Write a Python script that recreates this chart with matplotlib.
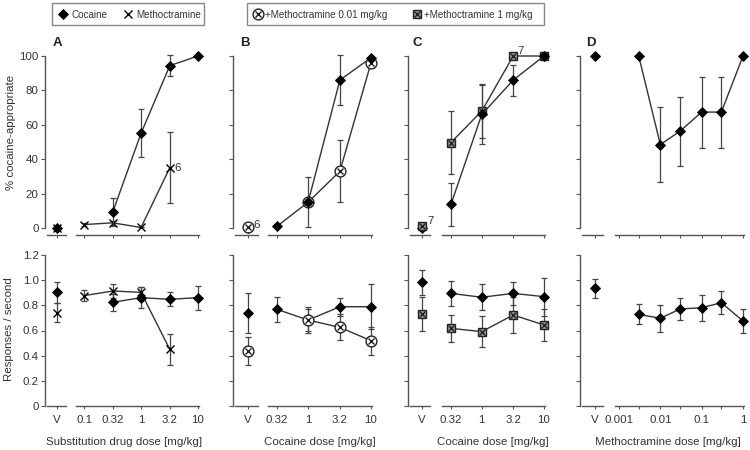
import matplotlib
matplotlib.use('Agg')
import matplotlib.pyplot as plt
import numpy as np
from matplotlib.patches import Rectangle

plt.rcParams['font.family'] = ['Liberation Sans', 'DejaVu Sans']

# ---------------- data ----------------
# Panel A (substitution)
a_coc_dose = [0.32, 1, 3.2, 10]
a_coc_pct = [9.3, 55, 94.4, 100]
a_coc_pct_err = [8.4, 14, 6, 0]
a_coc_v_pct = 0
a_meth_dose = [0.1, 0.32, 1, 3.2]
a_meth_pct = [2, 3, 0.3, 35]
a_meth_pct_err = [1, 1, 0, 20.7]
a_meth_v_pct = 0
a_coc_rate = [0.824, 0.861, 0.848, 0.861]
a_coc_rate_err = [0.069, 0.083, 0.057, 0.095]
a_coc_v_rate, a_coc_v_rate_err = 0.903, 0.086
a_meth_rate = [0.877, 0.914, 0.903, 0.450]
a_meth_rate_err = [0.042, 0.053, 0.042, 0.124]
a_meth_v_rate, a_meth_v_rate_err = 0.742, 0.073

# Panel B (cocaine +/- methoctramine 0.01 mg/kg)
b_coc_dose = [0.32, 1, 3.2, 10]
b_coc_pct = [1, 15, 86, 99]
b_coc_pct_err = [0, 0, 14.3, 0]
b_coc_v_pct = 0
b_m_dose = [1, 3.2, 10]
b_m_pct = [15, 33, 96]
b_m_pct_err = [14.5, 18, 2]
b_m_v_pct = 0.5
b_coc_rate = [0.768, 0.683, 0.789, 0.789]
b_coc_rate_err = [0.097, 0.103, 0.073, 0.179]
b_coc_v_rate, b_coc_v_rate_err = 0.736, 0.159
b_m_rate = [0.683, 0.625, 0.519]
b_m_rate_err = [0.088, 0.103, 0.110]
b_m_v_rate, b_m_v_rate_err = 0.437, 0.112

# Panel C (cocaine +/- methoctramine 1 mg/kg)
c_coc_dose = [0.32, 1, 3.2, 10]
c_coc_pct = [13.8, 66, 86, 100]
c_coc_pct_err = [12.4, 17, 9, 0]
c_coc_v_pct = 0
c_m_dose = [0.32, 1, 3.2, 10]
c_m_pct = [49.7, 68, 100, 100]
c_m_pct_err = [18.5, 15.5, 0, 0]
c_m_v_pct = 1
c_coc_rate = [0.895, 0.864, 0.895, 0.869]
c_coc_rate_err = [0.10, 0.102, 0.092, 0.15]
c_coc_v_rate, c_coc_v_rate_err = 0.983, 0.10
c_m_rate = [0.617, 0.591, 0.723, 0.644]
c_m_rate_err = [0.107, 0.125, 0.14, 0.13]
c_m_v_rate, c_m_v_rate_err = 0.731, 0.133

# Panel D (cocaine + methoctramine doses)
d_dose = [0.003, 0.01, 0.03, 0.1, 0.3, 1]
d_pct = [100, 48.5, 56.3, 67.4, 67.4, 100]
d_pct_err = [0, 21.8, 20, 20.6, 20.6, 0]
d_v_pct = 100
d_rate = [0.728, 0.697, 0.771, 0.781, 0.821, 0.675]
d_rate_err = [0.08, 0.108, 0.09, 0.103, 0.089, 0.098]
d_v_rate, d_v_rate_err = 0.935, 0.076

ticks_ac = [0.1, 0.32, 1, 3.2, 10]
ticklabels_a = ['0.1', '0.32', '1', '3.2', '10']
ticks_bc = [0.32, 1, 3.2, 10]
ticklabels_bc = ['0.32', '1', '3.2', '10']
ticks_d = [0.001, 0.003, 0.01, 0.03, 0.1, 0.3, 1]
ticklabels_d = ['0.001', '', '0.01', '', '0.1', '', '1']

legend1_labels = ['Cocaine', 'Methoctramine']
legend2_labels = ['+Methoctramine 0.01 mg/kg', '+Methoctramine 1 mg/kg']

# ---------------- style ----------------
W, H = 750, 450
fig = plt.figure(figsize=(7.5, 4.5), dpi=100)
TXT = '#333333'
SP = '#555555'
LC = '#333333'
EC = '#444444'
FS = 8.25

def add_ax(x0, x1, ytop, ybot):
    return fig.add_axes([x0 / W, 1 - ybot / H, (x1 - x0) / W, (ybot - ytop) / H])

STY = {
    'coc': [dict(marker='D', ms=5.2, mfc='black', mec='black', mew=0.6)],
    'meth': [dict(marker='x', ms=5.5, mfc='none', mec='black', mew=1.0)],
    'm001': [dict(marker='o', ms=7.8, mfc='white', mec='#222222', mew=1.0),
             dict(marker='x', ms=5.0, mfc='none', mec='#222222', mew=1.0)],
    'm1': [dict(marker='s', ms=6.2, mfc='#9a9a9a', mec='#222222', mew=1.0),
           dict(marker='x', ms=4.6, mfc='none', mec='#222222', mew=1.0)],
}

def plot_series(ax, x, y, err, kind, line=True, z=3):
    x = np.asarray(x, dtype=float)
    y = np.asarray(y, dtype=float)
    err = np.asarray(err, dtype=float)
    ax.errorbar(x, y, yerr=err, fmt='none', ecolor=EC, elinewidth=0.9,
                capsize=2.3, capthick=0.9, zorder=z, clip_on=False)
    if line and len(x) > 1:
        ax.plot(x, y, '-', color=LC, lw=1.0, zorder=z, clip_on=False)
    for st in STY[kind]:
        ax.plot(x, y, linestyle='none', zorder=z + 0.5, clip_on=False, **st)

panels = {
    'A': dict(ysp=45, vend=66, vx=57, m0=76, m1=199, t0=(0.1, 84), t1=(10, 198),
              ticks=ticks_ac, labels=ticklabels_a),
    'B': dict(ysp=233, vend=258, vx=248, m0=268, m1=372, t0=(0.32, 277), t1=(10, 371),
              ticks=ticks_bc, labels=ticklabels_bc),
    'C': dict(ysp=408, vend=430, vx=422, m0=442, m1=545, t0=(0.32, 451), t1=(10, 544),
              ticks=ticks_bc, labels=ticklabels_bc),
    'D': dict(ysp=580, vend=603, vx=595, m0=615, m1=744, t0=(0.001, 619), t1=(1, 743),
              ticks=ticks_d, labels=ticklabels_d),
}

TOP_Y0, TOP_Y100, TOP_BASE = 228, 56, 235
BOT_TOP, BOT_BASE = 255, 406

def style_axes(ax):
    for s in ax.spines.values():
        s.set_color(SP)
        s.set_linewidth(1.0)
    ax.spines['top'].set_visible(False)
    ax.spines['right'].set_visible(False)
    ax.tick_params(colors=SP, labelcolor=TXT, labelsize=FS, width=0.8)
    ax.patch.set_alpha(0)

axes = {}
for name, p in panels.items():
    scale = (TOP_Y0 - TOP_Y100) / 100.0
    ylo = -(TOP_BASE - TOP_Y0) / scale
    vt = add_ax(p['ysp'], p['vend'], TOP_Y100, TOP_BASE)
    vt.set_xlim(p['ysp'] - p['vx'], p['vend'] - p['vx'])
    vt.set_ylim(ylo, 100)
    style_axes(vt)
    vt.spines['left'].set_bounds(0, 100)
    vt.spines['bottom'].set_bounds(p['ysp'] - p['vx'] + 2, p['vend'] - p['vx'])
    vt.set_yticks([0, 20, 40, 60, 80, 100])
    vt.set_xticks([0])
    vt.set_xticklabels([])
    vt.tick_params(axis='y', direction='out', length=3, pad=1.5)
    vt.tick_params(axis='x', direction='out', length=2.5)
    if name != 'A':
        vt.set_yticklabels([])
    lo_l = np.log10(p['t0'][0]); hi_l = np.log10(p['t1'][0])
    ppd = (p['t1'][1] - p['t0'][1]) / (hi_l - lo_l)
    xl = (10 ** (lo_l - (p['t0'][1] - p['m0']) / ppd), 10 ** (hi_l + (p['m1'] - p['t1'][1]) / ppd))
    mt = add_ax(p['m0'], p['m1'], TOP_Y100, TOP_BASE)
    mt.set_xscale('log')
    mt.set_xlim(*xl)
    mt.set_ylim(ylo, 100)
    style_axes(mt)
    mt.spines['left'].set_visible(False)
    mt.set_yticks([])
    mt.set_xticks(p['ticks'])
    mt.set_xticklabels([])
    mt.minorticks_off()
    mt.tick_params(axis='x', direction='out', length=2.5)
    vb = add_ax(p['ysp'], p['vend'], BOT_TOP, BOT_BASE)
    vb.set_xlim(p['ysp'] - p['vx'], p['vend'] - p['vx'])
    vb.set_ylim(0, 1.2)
    style_axes(vb)
    vb.spines['bottom'].set_bounds(p['ysp'] - p['vx'] + 2, p['vend'] - p['vx'])
    vb.set_yticks([0, 0.2, 0.4, 0.6, 0.8, 1.0, 1.2])
    if name == 'A':
        vb.set_yticklabels(['0', '0.2', '0.4', '0.6', '0.8', '1.0', '1.2'])
    else:
        vb.set_yticklabels([])
    vb.set_xticks([0])
    vb.set_xticklabels(['V'])
    vb.tick_params(axis='y', direction='out', length=3, pad=1.5)
    vb.tick_params(axis='x', direction='out', length=2.5, pad=4)
    mb = add_ax(p['m0'], p['m1'], BOT_TOP, BOT_BASE)
    mb.set_xscale('log')
    mb.set_xlim(*xl)
    mb.set_ylim(0, 1.2)
    style_axes(mb)
    mb.spines['left'].set_visible(False)
    mb.set_yticks([])
    mb.set_xticks(p['ticks'])
    mb.set_xticklabels(p['labels'])
    mb.minorticks_off()
    mb.tick_params(axis='x', direction='out', length=2.5, pad=4)
    axes[name] = (vt, mt, vb, mb)

# ---------------- plot data ----------------
vt, mt, vb, mb = axes['A']
plot_series(vt, [0], [a_meth_v_pct], [0], 'meth', line=False)
plot_series(vt, [0], [a_coc_v_pct], [0], 'coc', line=False, z=4)
plot_series(mt, a_meth_dose, a_meth_pct, a_meth_pct_err, 'meth')
plot_series(mt, a_coc_dose, a_coc_pct, a_coc_pct_err, 'coc', z=4)
plot_series(vb, [0], [a_coc_v_rate], [a_coc_v_rate_err], 'coc', line=False)
plot_series(vb, [0], [a_meth_v_rate], [a_meth_v_rate_err], 'meth', line=False)
plot_series(mb, a_coc_dose, a_coc_rate, a_coc_rate_err, 'coc')
plot_series(mb, a_meth_dose, a_meth_rate, a_meth_rate_err, 'meth')
mt.text(3.2 * 1.18, a_meth_pct[3], '6', fontsize=FS, color=TXT, va='center', ha='left')

vt, mt, vb, mb = axes['B']
plot_series(vt, [0], [b_coc_v_pct], [0], 'coc', line=False)
plot_series(vt, [0], [b_m_v_pct], [0], 'm001', line=False)
vt.text(5.5, 2, '6', fontsize=FS, color=TXT, va='center', ha='left')
plot_series(mt, b_m_dose, b_m_pct, b_m_pct_err, 'm001')
plot_series(mt, b_coc_dose, b_coc_pct, b_coc_pct_err, 'coc', z=4)
plot_series(vb, [0], [b_coc_v_rate], [b_coc_v_rate_err], 'coc', line=False)
plot_series(vb, [0], [b_m_v_rate], [b_m_v_rate_err], 'm001', line=False)
plot_series(mb, b_coc_dose, b_coc_rate, b_coc_rate_err, 'coc')
plot_series(mb, b_m_dose, b_m_rate, b_m_rate_err, 'm001', z=4)

vt, mt, vb, mb = axes['C']
plot_series(vt, [0], [c_coc_v_pct], [0], 'coc', line=False)
plot_series(vt, [0], [c_m_v_pct], [0], 'm1', line=False)
vt.text(5, 4, '7', fontsize=FS, color=TXT, va='center', ha='left')
plot_series(mt, c_m_dose, c_m_pct, c_m_pct_err, 'm1')
plot_series(mt, c_coc_dose, c_coc_pct, c_coc_pct_err, 'coc', z=4)
mt.text(3.2 * 1.15, 103, '7', fontsize=FS, color=TXT, va='center', ha='left')
plot_series(vb, [0], [c_coc_v_rate], [c_coc_v_rate_err], 'coc', line=False)
plot_series(vb, [0], [c_m_v_rate], [c_m_v_rate_err], 'm1', line=False)
plot_series(mb, c_coc_dose, c_coc_rate, c_coc_rate_err, 'coc')
plot_series(mb, c_m_dose, c_m_rate, c_m_rate_err, 'm1')

vt, mt, vb, mb = axes['D']
plot_series(vt, [0], [d_v_pct], [0], 'coc', line=False)
plot_series(mt, d_dose, d_pct, d_pct_err, 'coc')
plot_series(vb, [0], [d_v_rate], [d_v_rate_err], 'coc', line=False)
plot_series(mb, d_dose, d_rate, d_rate_err, 'coc')

# ---------------- text ----------------
for name, (x, y) in {'A': (57, 43), 'B': (245, 43), 'C': (417, 43), 'D': (591, 43)}.items():
    fig.text(x / W, 1 - y / H, name, fontsize=9.5, fontweight='bold', color='#222222',
             ha='center', va='center')

fig.text(11 / W, 1 - 132 / H, '% cocaine-appropriate', rotation=90, fontsize=FS,
         color=TXT, ha='center', va='center')
fig.text(9 / W, 1 - 329 / H, 'Responses / second', rotation=90, fontsize=FS,
         color=TXT, ha='center', va='center')
xlabels = [('Substitution drug dose [mg/kg]', 124), ('Cocaine dose [mg/kg]', 320),
           ('Cocaine dose [mg/kg]', 493), ('Methoctramine dose [mg/kg]', 668)]
for txt, x in xlabels:
    fig.text(x / W, 1 - 442 / H, txt, fontsize=FS, color=TXT, ha='center', va='center')

# ---------------- legends (drawn in a pixel-space overlay) ----------------
ov = fig.add_axes([0, 0, 1, 1])
ov.set_xlim(0, W)
ov.set_ylim(H, 0)
ov.axis('off')
ov.patch.set_alpha(0)
LFS = 7.1
for (bx0, bx1) in [(52, 204), (247, 544)]:
    ov.add_patch(Rectangle((bx0, 3), bx1 - bx0, 22, facecolor='white',
                           edgecolor='#888888', lw=1.0))
legend_items = [('coc', 63, 71, legend1_labels[0]), ('meth', 128, 136, legend1_labels[1]),
                ('m001', 258, 265, legend2_labels[0]), ('m1', 417, 424, legend2_labels[1])]
for kind, mx, tx, lab in legend_items:
    for st in STY[kind]:
        ov.plot([mx], [14], linestyle='none', **st)
    ov.text(tx, 14.5, lab, fontsize=LFS, color=TXT, ha='left', va='center')

fig.savefig('out.png', dpi=100)
